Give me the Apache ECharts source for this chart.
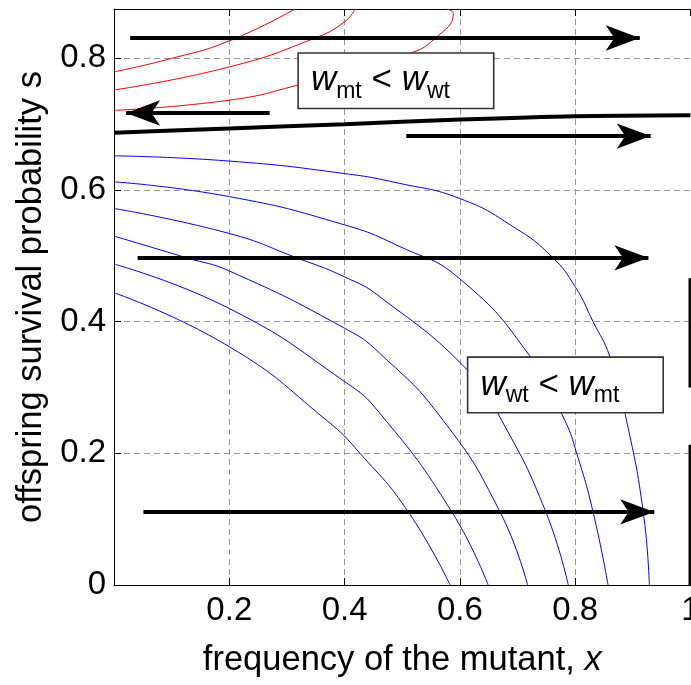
<!DOCTYPE html>
<html><head><meta charset="utf-8">
<script src="https://cdn.jsdelivr.net/npm/echarts@6/dist/echarts.min.js"></script>
<style>html,body{margin:0;padding:0;background:#fff}#c{width:691px;height:685px}</style>
</head><body><div id="c"></div>
<script>
// ---- data ----
const xRange = [0, 1];
const yRange = [0, 0.875];
const tickStep = 0.2;

const blue1 = [[0,0.652],[0.2,0.644],[0.4,0.625],[0.496,0.610],[0.6,0.587],[0.693,0.544],[0.759,0.499],[0.8,0.453],[0.831,0.400],[0.860,0.347],[0.889,0.25],[0.918,0.111],[0.9286,0]];
const blue2 = [[0,0.6125],[0.2,0.590],[0.4,0.547],[0.496,0.514],[0.6,0.465],[0.7245,0.344],[0.782,0.25],[0.8026,0.2],[0.831,0.111],[0.857,0]];
const blue3 = [[0,0.572],[0.2,0.534],[0.317,0.497],[0.4,0.468],[0.461,0.438],[0.616,0.324],[0.6725,0.25],[0.749,0.111],[0.788,0]];
const blue4 = [[0,0.530],[0.126,0.497],[0.2,0.477],[0.4,0.390],[0.461,0.352],[0.571,0.25],[0.6696,0.111],[0.7175,0]];
const blue5 = [[0,0.4875],[0.2,0.420],[0.4,0.309],[0.461,0.261],[0.586,0.111],[0.649,0]];
const blue6 = [[0,0.444],[0.2,0.362],[0.369,0.25],[0.4267,0.2],[0.5105,0.111],[0.583,0]];

const red1 = [[0,0.7795],[0.1,0.800],[0.2,0.8266],[0.314,0.875]];
const red2 = [[0,0.752],[0.2,0.787],[0.346,0.830],[0.4,0.8555],[0.418,0.875]];
const red3 = [[0,0.721],[0.2,0.7365],[0.317,0.759],[0.5105,0.807],[0.557,0.8305],[0.5886,0.868],[0.577,0.875]];

const boundary = [[0,0.687],[0.2,0.6935],[0.4,0.700],[0.6,0.707],[0.8,0.7122],[1,0.7137]];

const edgeUpper = [[1,0.466],[1,0.300]];
const edgeLower = [[1,0.213],[1,0]];

// arrows: [xStart, s, xTip, s]
const arrows = [
  [0.028,0.831,0.912,0.831],
  [0.270,0.717,0.021,0.717],
  [0.507,0.682,0.931,0.682],
  [0.041,0.497,0.927,0.497],
  [0.051,0.111,0.937,0.111]
];

const boxCenters = [[0.489,0.766],[0.783,0.304]];
const boxSubs = [['mt','wt'],['wt','mt']];

const xName = 'frequency of the mutant, ';
const xNameVar = 'x';
const yName = 'offspring survival probability s';

// ---- chart ----
const FONT = 'Liberation Sans';
const chart = echarts.init(document.getElementById('c'), null, {renderer:'canvas'});

function curve(data, color, width){
  return {type:'line', data:data, showSymbol:false, symbol:'none', smooth:0.5,
    lineStyle:{color:color, width:width}, silent:true, animation:false, z:2};
}

const series = [];
[blue1,blue2,blue3,blue4,blue5,blue6].forEach(d=>series.push(curve(d,'#0000ff',1)));
[red1,red2,red3].forEach(d=>series.push(curve(d,'#ff0000',1)));
series.push(Object.assign(curve(boundary,'#000',4),{smooth:0.3, z:3}));
series.push(Object.assign(curve(edgeUpper,'#000',4),{smooth:false, z:3, clip:false}));
series.push(Object.assign(curve(edgeLower,'#000',4),{smooth:false, z:3, clip:false}));

series.push({
  type:'line', data:[], silent:true, animation:false, z:5,
  markLine:{
    silent:true, animation:false,
    symbol:['none','arrow'], symbolSize:[19,34], symbolOffset:0,
    lineStyle:{color:'#000', width:4, type:'solid'},
    itemStyle:{color:'#000'},
    label:{show:false},
    emphasis:{disabled:true},
    data: arrows.map(a=>[{coord:[a[0],a[1]]},{coord:[a[2],a[3]]}])
  }
});

const noBorder = {textBorderWidth:0, textBorderColor:'transparent', textShadowBlur:0};
series.push({
  type:'scatter', symbolSize:0, silent:true, animation:false, z:10,
  itemStyle:{color:'#fff', opacity:1},
  data: boxCenters.map((p,i)=>({
    value:p,
    itemStyle:{opacity:1},
    label:Object.assign({
      show:true, position:'inside', color:'#000', opacity:1,
      formatter:'{w|w}{s|'+boxSubs[i][0]+'}{o| < }{w|w}{s|'+boxSubs[i][1]+'}',
      backgroundColor:'#fff', borderColor:'#333', borderWidth:1.6,
      padding:[5,43,5,12],
      rich:{
        w:Object.assign({fontSize:35, fontStyle:'italic', fontFamily:FONT, color:'#000', lineHeight:44}, noBorder),
        s:Object.assign({fontSize:23, fontFamily:FONT, color:'#000', lineHeight:20, verticalAlign:'bottom'}, noBorder),
        o:Object.assign({fontSize:35, fontFamily:FONT, color:'#000', lineHeight:44}, noBorder)
      }
    }, noBorder)
  }))
});

const labelStyle = {fontSize:33, color:'#000', fontFamily:FONT};
const nameStyle = {fontSize:34.5, color:'#000', fontFamily:FONT};
const splitStyle = {show:true, showMinLine:false, showMaxLine:false, lineStyle:{color:'#999', width:1, type:[6,4]}};

chart.setOption({
  animation:false,
  backgroundColor:'#fff',
  grid:{left:114, top:9, width:576.5, height:576, containLabel:false, outerBoundsMode:'none'},
  xAxis:[{
    type:'value', min:xRange[0], max:xRange[1], interval:tickStep, position:'bottom',
    axisLine:{show:true, onZero:false, lineStyle:{color:'#000', width:1}},
    axisTick:{show:true, inside:true, length:7, lineStyle:{color:'#000'}},
    axisLabel:Object.assign({showMinLabel:false, margin:9}, labelStyle),
    splitLine:splitStyle,
    name: xName + '{i|' + xNameVar + '}', nameLocation:'middle', nameGap:58,
    nameTextStyle:Object.assign({rich:{i:{fontStyle:'italic', fontSize:34.5, fontFamily:FONT, color:'#000'}}}, nameStyle)
  },{
    type:'value', min:xRange[0], max:xRange[1], interval:tickStep, position:'top',
    axisLine:{show:true, onZero:false, lineStyle:{color:'#000', width:1}},
    axisTick:{show:true, inside:true, length:7, lineStyle:{color:'#000'}},
    axisLabel:{show:false}, splitLine:{show:false}
  }],
  yAxis:{
    type:'value', min:yRange[0], max:yRange[1], interval:tickStep,
    axisLine:{show:true, onZero:false, lineStyle:{color:'#000', width:1}},
    axisTick:{show:true, inside:true, length:7, lineStyle:{color:'#000'}},
    axisLabel:Object.assign({showMaxLabel:false, margin:8}, labelStyle),
    splitLine:splitStyle,
    name:yName, nameLocation:'middle', nameGap:63,
    nameTextStyle:nameStyle
  },
  series:series
});
</script>
</body></html>
